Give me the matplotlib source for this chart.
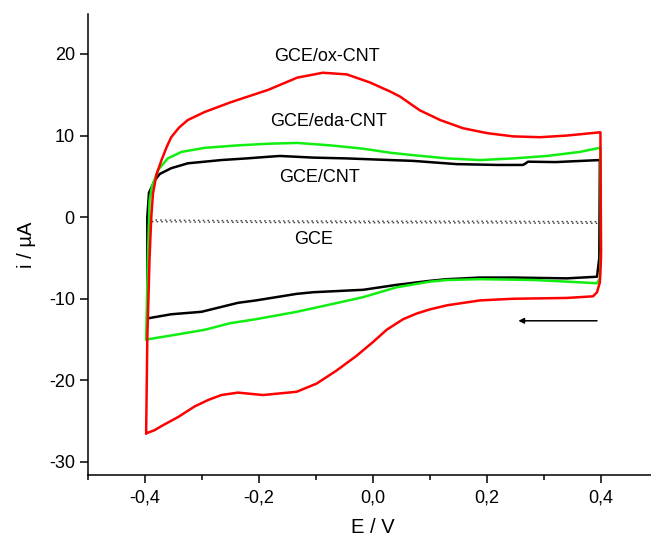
import matplotlib
matplotlib.use("Agg")
import matplotlib.pyplot as plt
from matplotlib.ticker import FixedLocator, FuncFormatter

plt.rcParams['font.family'] = ['Liberation Sans', 'DejaVu Sans']

# ---- data (E / V, i / uA) ----
red_fwd_x = [-0.398, -0.396, -0.392, -0.389, -0.386, -0.380, -0.371, -0.362, -0.354, -0.340, -0.325,
             -0.295, -0.249, -0.184, -0.133, -0.088, -0.046, -0.005, 0.030, 0.047, 0.082,
             0.118, 0.158, 0.200, 0.246, 0.293, 0.340, 0.398]
red_fwd_y = [-26.5, -15.0, -5.0, 0.0, 2.9, 5.2, 7.0, 8.6, 9.8, 11.0, 11.9,
             12.9, 14.1, 15.6, 17.1, 17.7, 17.5, 16.5, 15.4, 14.8, 13.1,
             11.9, 10.9, 10.3, 9.9, 9.8, 10.0, 10.4]
red_rev_x = [0.399, 0.400, 0.398, 0.393, 0.386, 0.340, 0.246, 0.188, 0.130, 0.100, 0.077, 0.053,
             0.024, 0.000, -0.029, -0.064, -0.099, -0.134, -0.193, -0.237, -0.266, -0.289,
             -0.313, -0.342, -0.371, -0.383, -0.398]
red_rev_y = [10.4, -5.0, -8.0, -9.2, -9.7, -9.9, -10.0, -10.2, -10.8, -11.3, -11.8, -12.5,
             -13.8, -15.3, -17.0, -18.8, -20.4, -21.4, -21.8, -21.5, -21.8, -22.4,
             -23.2, -24.5, -25.6, -26.1, -26.5]

green_fwd_x = [-0.398, -0.395, -0.392, -0.388, -0.377, -0.360, -0.336, -0.295, -0.237, -0.184, -0.133,
               -0.075, -0.018, 0.030, 0.070, 0.130, 0.188, 0.246, 0.305, 0.363, 0.398]
green_fwd_y = [-15.0, -5.0, 2.0, 3.7, 5.8, 7.2, 8.0, 8.5, 8.8, 9.0, 9.1,
               8.8, 8.4, 7.9, 7.6, 7.2, 7.0, 7.2, 7.5, 8.0, 8.5]
green_rev_x = [0.399, 0.400, 0.398, 0.393, 0.340, 0.282, 0.188, 0.130, 0.100, 0.041, -0.017,
               -0.075, -0.134, -0.205, -0.251, -0.295, -0.354, -0.398]
green_rev_y = [8.5, -4.0, -7.5, -8.1, -7.9, -7.7, -7.6, -7.7, -7.9, -8.6, -9.8,
               -10.7, -11.6, -12.5, -13.0, -13.8, -14.5, -15.0]

black_fwd_x = [-0.396, -0.396, -0.393, -0.383, -0.374, -0.354, -0.325, -0.266, -0.222, -0.184, -0.163,
               -0.105, -0.046, 0.030, 0.070, 0.147, 0.218, 0.263, 0.268, 0.272, 0.320, 0.398]
black_fwd_y = [-12.4, 0.0, 3.0, 4.5, 5.3, 6.0, 6.6, 7.0, 7.2, 7.4, 7.5,
               7.3, 7.2, 7.0, 6.9, 6.5, 6.4, 6.4, 6.6, 6.8, 6.75, 7.0]
black_rev_x = [0.398, 0.397, 0.393, 0.340, 0.246, 0.188, 0.130, 0.100, 0.041, -0.017, -0.105,
               -0.134, -0.205, -0.237, -0.266, -0.301, -0.354, -0.395]
black_rev_y = [7.0, -5.0, -7.3, -7.5, -7.4, -7.4, -7.6, -7.8, -8.3, -8.9, -9.2,
               -9.4, -10.2, -10.5, -11.0, -11.6, -11.9, -12.4]

gce_fwd_x = [-0.390, -0.200, 0.000, 0.200, 0.398]
gce_fwd_y = [-0.35, -0.45, -0.50, -0.50, -0.55]
gce_rev_x = [0.398, 0.200, 0.000, -0.200, -0.390]
gce_rev_y = [-0.75, -0.70, -0.68, -0.65, -0.55]

x_major = [-0.4, -0.2, 0.0, 0.2, 0.4]
x_minor = [-0.5, -0.3, -0.1, 0.1, 0.3, 0.5]
y_major = [-30, -20, -10, 0, 10, 20]

labels = ["GCE/ox-CNT", "GCE/eda-CNT", "GCE/CNT", "GCE"]
label_pos = [(-0.081, 19.7), (-0.078, 11.7), (-0.093, 4.9), (-0.105, -2.7)]

# ---- figure ----
fig = plt.figure(figsize=(6.51, 5.38), dpi=100)
ax = fig.add_axes([88/651, 63/538, 570/651, 461/538])

lw = 1.8
kw = dict(lw=lw, solid_joinstyle='round', solid_capstyle='round')
ax.plot(gce_fwd_x + gce_rev_x, gce_fwd_y + gce_rev_y, color='#444444', lw=1.0,
        linestyle=(0, (1.2, 2.2)))
ax.plot(black_fwd_x + black_rev_x, black_fwd_y + black_rev_y, color='black', **kw)
ax.plot(green_fwd_x + green_rev_x, green_fwd_y + green_rev_y, color='#11ee11', **kw)
ax.plot(red_fwd_x + red_rev_x, red_fwd_y + red_rev_y, color='#ff0000', **kw)

for t, (x, y) in zip(labels, label_pos):
    ax.text(x, y, t, fontsize=13, ha='center', va='center', color='black')

ax.annotate('', xy=(0.255, -12.7), xytext=(0.393, -12.7),
            arrowprops=dict(arrowstyle='-|>', color='black', lw=1.1,
                            mutation_scale=8, shrinkA=0, shrinkB=0))

ax.set_xlim(-0.5, 0.5)
ax.set_ylim(-31.6, 24.9)

ax.spines['top'].set_visible(False)
ax.spines['right'].set_visible(False)
for s in ('left', 'bottom'):
    ax.spines[s].set_linewidth(1.1)

ax.xaxis.set_major_locator(FixedLocator(x_major))
ax.xaxis.set_minor_locator(FixedLocator(x_minor))
ax.yaxis.set_major_locator(FixedLocator(y_major))
ax.xaxis.set_major_formatter(FuncFormatter(lambda v, p: ("%.1f" % v).replace('.', ',').replace('-0,0', '0,0')))
ax.yaxis.set_major_formatter(FuncFormatter(lambda v, p: "%d" % v))
ax.tick_params(axis='both', which='major', direction='out', length=5.5, width=1.1,
               labelsize=13, pad=4)
ax.tick_params(axis='x', which='minor', direction='out', length=3.5, width=1.1)
ax.tick_params(axis='x', which='major', pad=5)

ax.set_xlabel('E / V', fontsize=14.5, labelpad=8)
ax.set_ylabel('i / µA', fontsize=14.5, labelpad=9)

fig.savefig('out.png', dpi=100)
